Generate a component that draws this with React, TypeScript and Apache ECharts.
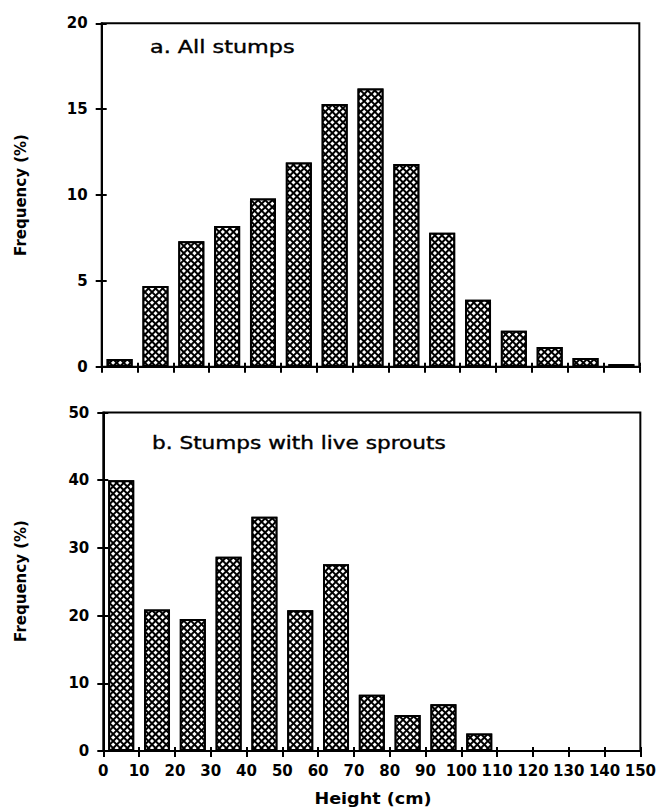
import React, { useEffect, useRef } from "react";
import * as echarts from "echarts";

// Height classes (bin centres, cm) and frequencies (%)
const binCenters = [5, 15, 25, 35, 45, 55, 65, 75, 85, 95, 105, 115, 125, 135, 145];
const allStumps = [0.45, 4.7, 7.3, 8.2, 9.8, 11.9, 15.3, 16.2, 11.8, 7.8, 3.9, 2.1, 1.15, 0.5, 0.15];
const liveSprouts = [40.0, 20.9, 19.5, 28.7, 34.6, 20.8, 27.6, 8.3, 5.3, 6.9, 2.6, 0, 0, 0, 0];

const xMin = 0;
const xMax = 150;
const xStep = 10;
const yMaxA = 20;
const yStepA = 5;
const yMaxB = 50;
const yStepB = 10;

const panelTitles = ["a. All stumps", "b. Stumps with live sprouts"];
const yTitle = "Frequency (%)";
const xTitle = "Height (cm)";

const FONT = '"DejaVu Sans", "Noto Sans", sans-serif';

export default function App() {
  const ref = useRef<HTMLDivElement>(null);

  useEffect(() => {
    if (!ref.current) return;
    const chart = echarts.init(ref.current, undefined, { renderer: "svg" });

    const grids = [
      { left: 101.7, top: 23.3, width: 537.6, height: 343.4 },
      { left: 103.3, top: 412.5, width: 538.2, height: 338.5 },
    ];

    const black = "#000";
    const tickStyle = { color: black, width: 2 };

    const xAxes: any[] = [];
    const yAxes: any[] = [];
    grids.forEach((g, i) => {
      const yMax = i === 0 ? yMaxA : yMaxB;
      const yStep = i === 0 ? yStepA : yStepB;
      xAxes.push({
        type: "value",
        gridIndex: i,
        position: "bottom",
        min: xMin,
        max: xMax,
        interval: xStep,
        axisLine: { show: true, onZero: false, lineStyle: { color: black, width: 2 } },
        axisTick: { show: true, length: 6, lineStyle: tickStyle },
        axisLabel: {
          show: i === 1,
          margin: 12,
          color: black,
          fontFamily: FONT,
          fontWeight: "bold",
          fontSize: 15,
          showMinLabel: true,
          showMaxLabel: true,
        },
        splitLine: { show: false },
      });
      xAxes.push({
        type: "value",
        gridIndex: i,
        position: "bottom",
        min: xMin,
        max: xMax,
        interval: xStep,
        axisLine: { show: false },
        axisTick: { show: true, inside: true, length: 4, lineStyle: tickStyle },
        axisLabel: { show: false },
        splitLine: { show: false },
      });
      yAxes.push({
        type: "value",
        gridIndex: i,
        position: "left",
        min: 0,
        max: yMax,
        interval: yStep,
        axisLine: { show: true, onZero: false, lineStyle: { color: black, width: 2 } },
        axisTick: { show: true, length: 6, lineStyle: tickStyle },
        axisLabel: {
          margin: 14,
          color: black,
          fontFamily: FONT,
          fontWeight: "bold",
          fontSize: 15,
        },
        splitLine: { show: false },
      });
      yAxes.push({
        type: "value",
        gridIndex: i,
        position: "left",
        min: 0,
        max: yMax,
        interval: yStep,
        axisLine: { show: false },
        axisTick: { show: true, inside: true, length: 5, lineStyle: tickStyle },
        axisLabel: { show: false },
        splitLine: { show: false },
      });
    });

    const decal = {
      symbol: "rect",
      symbolSize: 1,
      color: "#ffffff",
      backgroundColor: "#000000",
      dashArrayX: [3, 2],
      dashArrayY: [3, 2],
      rotation: Math.PI / 4,
    };

    const makeSeries = (vals: number[], idx: number) => ({
      type: "bar",
      xAxisIndex: idx * 2,
      yAxisIndex: idx * 2,
      barWidth: 26,
      data: binCenters
        .map((x, k) => [x, vals[k]])
        .filter((d) => (d[1] as number) > 0),
      itemStyle: {
        color: black,
        borderColor: black,
        borderWidth: 2,
        decal,
      },
      emphasis: { disabled: true },
    });

    chart.setOption({
      animation: false,
      backgroundColor: "#ffffff",
      grid: grids.map((g) => ({
        ...g,
        show: true,
        borderColor: black,
        borderWidth: 2,
        backgroundColor: "transparent",
        containLabel: false,
      })),
      xAxis: xAxes,
      yAxis: yAxes,
      series: [makeSeries(allStumps, 0), makeSeries(liveSprouts, 1)],
      graphic: [
        {
          type: "text",
          x: 150,
          y: 47,
          scaleX: 1.24,
          style: {
            text: panelTitles[0],
            font: `500 18px ${FONT}`,
            fill: black,
            stroke: black,
            lineWidth: 0.4,
            verticalAlign: "middle",
          },
        },
        {
          type: "text",
          x: 152,
          y: 443,
          scaleX: 1.2,
          style: {
            text: panelTitles[1],
            font: `500 18px ${FONT}`,
            fill: black,
            stroke: black,
            lineWidth: 0.4,
            verticalAlign: "middle",
          },
        },
        {
          type: "text",
          x: 21,
          y: 195,
          rotation: Math.PI / 2,
          style: {
            text: yTitle,
            font: `bold 15px ${FONT}`,
            fill: black,
            align: "center",
            verticalAlign: "middle",
          },
        },
        {
          type: "text",
          x: 21,
          y: 581,
          rotation: Math.PI / 2,
          style: {
            text: yTitle,
            font: `bold 15px ${FONT}`,
            fill: black,
            align: "center",
            verticalAlign: "middle",
          },
        },
        {
          type: "text",
          x: 373,
          y: 798,
          scaleX: 1.1,
          style: {
            text: xTitle,
            font: `bold 16px ${FONT}`,
            fill: black,
            align: "center",
            verticalAlign: "middle",
          },
        },
      ],
    });

    return () => chart.dispose();
  }, []);

  return (
    <div
      ref={ref}
      style={{ position: "fixed", left: 0, top: 0, width: 659, height: 811, background: "#fff" }}
    />
  );
}
